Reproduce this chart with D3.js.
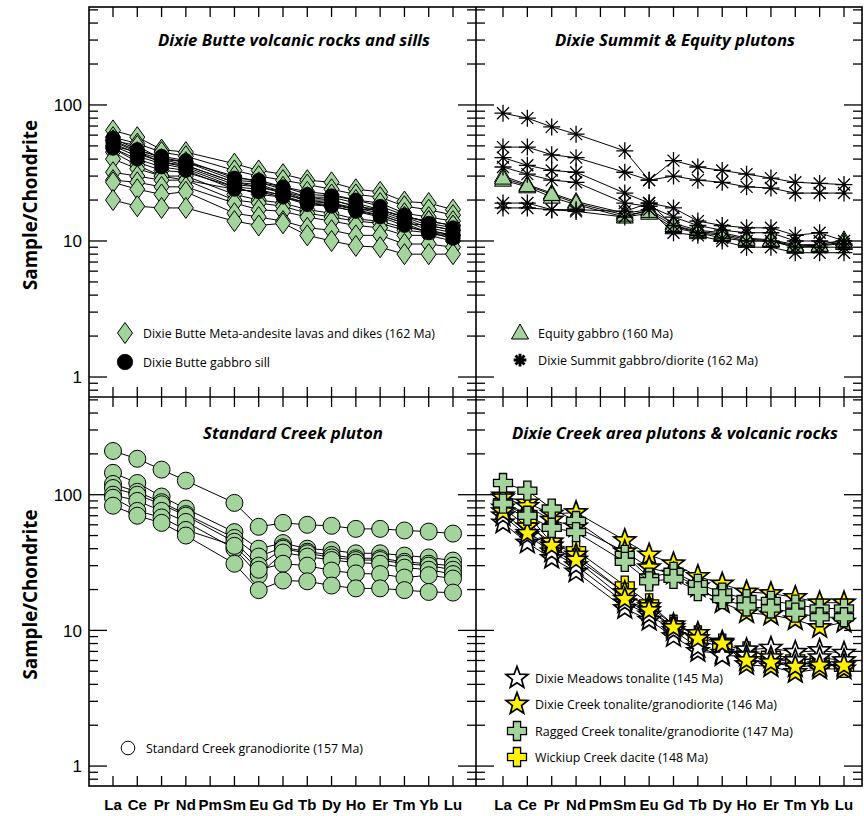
<!DOCTYPE html>
<html><head><meta charset="utf-8">
<script src="https://cdn.jsdelivr.net/npm/d3@7"></script>
<style>body{margin:0;background:#fff}svg{display:block}</style>
</head><body>
<svg id="chart" width="864" height="816"></svg>
<script>
// ---------------- DATA ----------------
const elements = ["La","Ce","Pr","Nd","Pm","Sm","Eu","Gd","Tb","Dy","Ho","Er","Tm","Yb","Lu"];
const plotted  = ["La","Ce","Pr","Nd","Sm","Eu","Gd","Tb","Dy","Ho","Er","Tm","Yb","Lu"];
const yTickLabels = [1, 10, 100];
const yAxisTitle = "Sample/Chondrite";

const panelTitles = ["Dixie Butte volcanic rocks and sills","Dixie Summit & Equity plutons",
                     "Standard Creek pluton","Dixie Creek area plutons & volcanic rocks"];

// Dixie Butte meta-andesite lavas and dikes (diamonds)
const dixieButteAndesite = [
 [65, 58, 47, 45, 37, 33, 31, 28, 27, 24, 23, 19.5, 19, 17],
 [58, 52, 45, 42, 33, 30, 28, 26, 24, 22, 21, 18, 17, 15.5],
 [55, 50, 40, 38, 30, 27, 25, 23, 22, 20, 19, 16, 15, 14],
 [50, 45, 38, 36, 27, 25, 23, 21, 20, 18, 17, 15, 14, 13],
 [48, 38, 33, 32, 25, 22, 21, 19, 18, 16.5, 15.5, 13.5, 13, 12],
 [45, 36, 30, 30, 22, 20, 19, 17, 16, 14.5, 14, 12.5, 12, 11],
 [40, 34, 30, 28, 24, 23, 22, 20, 19, 17, 17, 15, 14, 13],
 [32, 30, 28, 28, 20, 19, 18, 16, 15, 14, 13.5, 12, 11.5, 11],
 [28, 27, 25, 25, 19, 17, 16.5, 15, 14, 13, 12.5, 11, 11, 10],
 [27, 24, 22, 23, 16, 15, 14, 12.5, 12, 11, 11, 9.5, 9.5, 9],
 [20, 18, 17.5, 17.5, 14, 13, 13.5, 11, 10, 9.2, 9, 8, 8, 8]
];
// Dixie Butte gabbro sill (black circles)
const dixieButteGabbro = [
 [57, 47, 41, 38, 28, 27, 24, 21, 21, 19, 17, 15, 13, 12],
 [54, 45, 40, 36, 27, 26, 23, 20, 20, 18, 16.5, 14.5, 12.5, 11.5],
 [52, 44, 38, 35, 26, 25, 22.5, 19.5, 19, 17.5, 16, 14, 12, 11],
 [50, 42, 37, 34, 25, 24, 21.5, 19, 18.5, 17, 15.5, 13.5, 11.5, 10.5],
 [55, 46, 42, 39, 29, 28, 25, 22, 21.5, 20, 18, 15.5, 13.5, 12.5],
 [48, 40, 35, 33, 24, 23, 21, 18.5, 18, 16.5, 15, 13, 11.5, 10.5]
];
// Equity gabbro (triangles)
const equityGabbro = [
 [30, 26, 22.5, 19.5, 16, 17, 13.5, 12, 11.5, 10.5, 10.2, 9.4, 9.4, 10.2],
 [28, 25, 21, 18.5, 15, 16, 12.5, 11.5, 11, 10, 10, 9, 9.2, 9.6],
 [29, 25.5, 22, 19, 15.5, 16.5, 13, 11.8, 11.2, 10.3, 10.1, 9.2, 9.3, 9.8]
];
// Dixie Summit gabbro/diorite (asterisks)
const dixieSummit = [
 [87, 80, 69, 61, 46, 28, 39, 35, 33, 31, 29, 27, 26.5, 26],
 [49, 49, 43, 41, 32, 28, 30, 28, 27, 25, 24.5, 22.5, 22.5, 22.5],
 [41, 36, 33, 32, 22.5, 19, 17.5, 14, 13, 12.5, 12.5, 11, 11.5, 10],
 [35, 31, 28, 27, 19, 18, 15, 13, 12, 11.5, 11.5, 10, 10, 9.5],
 [19, 19, 17, 17, 16.5, 19, 13, 11.5, 10.5, 10, 10, 9, 9, 9],
 [17.5, 17.5, 17, 16.5, 15, 17, 11.5, 11, 10, 9, 9, 8.2, 8.2, 8.2]
];
// Standard Creek granodiorite (circles)
const standardCreek = [
 [210, 184, 153, 127, 87, 58, 62, 60, 59, 56, 56, 54.5, 53.5, 51.7],
 [145, 122, 97, 79, 53, 40, 44, 40, 39, 37, 37, 35.6, 34.5, 32.7],
 [120, 105, 88, 72, 48, 35, 41, 38, 36, 34, 34, 32, 31, 30],
 [112, 100, 85, 70, 45, 30, 40, 37, 34.5, 33, 33, 31, 30, 28],
 [100, 90, 76, 63, 40, 25.5, 37.5, 35, 33, 31.6, 31, 29, 28, 26],
 [95, 76, 68, 55, 42, 28, 31, 30, 27.6, 26.3, 26, 24.5, 25.5, 24.1],
 [83, 70, 62, 50, 31, 19.8, 23.3, 23, 21.4, 20.4, 20.4, 19.8, 19.2, 19]
];
// Dixie Meadows tonalite (white stars)
const dixieMeadows = [
 [62, 44, 34, 27, 14.5, 11.9, 9, 7, 6.8, 7.2, 7.4, 6.9, 7.1, 6.8],
 [70, 50, 38, 30, 16, 13, 10, 7.5, 6.5, 6.5, 6.3, 6, 6.3, 6]
];
// Dixie Creek tonalite/granodiorite (yellow stars)
const dixieCreek = [
 [98, 87, 72, 74, 46, 36, 31, 25, 22, 19.2, 18.7, 17.5, 16, 16],
 [95, 82, 65, 58, 38, 29, 26, 21, 16, 13.5, 13, 12, 10.5, 11.5],
 [80, 58, 45, 36, 19, 15, 11, 9.5, 8.2, 5.6, 5.4, 4.9, 5.2, 5.2],
 [75, 52, 42, 33, 17, 14, 10.5, 8.7, 8, 6, 5.8, 5.4, 5.5, 5.5]
];
// Ragged Creek tonalite/granodiorite (green crosses)
const raggedCreek = [
 [122, 107, 79, 64, 36, 24.5, 27, 22, 19, 17, 16.5, 15.5, 14.5, 14.5],
 [86, 70, 57, 53, 32, 23, 24, 19.5, 17, 15, 14.5, 13.5, 12.5, 12.5]
];
// Wickiup Creek dacite (yellow crosses)
const wickiupCreek = [
 [88, 72, 44, 39, 21.4, 15.8, 11, 9.2, 8, 7, 6.6, 6.2, 6, 5.3],
 [85, 66, 40, 34, 19, 14.5, 10.5, 8.5, 7.5, 6.6, 6.2, 5.8, 5.6, 5.6]
];

const legendLabels = {
  andesite: "Dixie Butte Meta-andesite lavas and dikes (162 Ma)",
  gabbroSill: "Dixie Butte gabbro sill",
  equity: "Equity gabbro (160 Ma)",
  summit: "Dixie Summit gabbro/diorite (162 Ma)",
  standard: "Standard Creek granodiorite (157 Ma)",
  meadows: "Dixie Meadows tonalite (145 Ma)",
  creek: "Dixie Creek tonalite/granodiorite (146 Ma)",
  ragged: "Ragged Creek tonalite/granodiorite (147 Ma)",
  wickiup: "Wickiup Creek dacite (148 Ma)"
};

// ---------------- STYLE / LAYOUT ----------------
const GREEN = "#a3d49c", YELLOW = "#fff200";
const svg = d3.select("#chart");

function starPath(R, r) {
  const pts = [];
  for (let i = 0; i < 10; i++) {
    const a = -Math.PI / 2 + i * Math.PI / 5, rad = i % 2 ? r : R;
    pts.push([rad * Math.cos(a), rad * Math.sin(a)]);
  }
  return "M" + pts.map(p => p[0].toFixed(2) + "," + p[1].toFixed(2)).join("L") + "Z";
}
function crossPath(a, b) {
  return `M${-a},${-b}H${a}V${-a}H${b}V${a}H${a}V${b}H${-a}V${a}H${-b}V${-a}H${-a}Z`;
}
const symbols = {
  diamond: {d: "M0,-10.5L7.5,0L0,10.5L-7.5,0Z", sw: 1},
  dot: {circle: 7, sw: 0.8},
  triangle: {d: "M0,-9L8.5,6L-8.5,6Z", sw: 1},
  asterisk: {d: "M-8.5,0H8.5M0,-8.5V8.5M-6,-6L6,6M-6,6L6,-6", sw: 1.3, line: true},
  circle: {circle: 8.5, sw: 1},
  star: {d: starPath(11.5, 4.8), sw: 1.7},
  cross: {d: crossPath(3.6, 9.5), sw: 1.3}
};

function drawSymbol(g, type, fill, x, y, scale = 1, swMul = 1) {
  const s = symbols[type];
  if (s.circle) {
    g.append("circle").attr("cx", x).attr("cy", y).attr("r", s.circle * scale)
      .attr("fill", fill).attr("stroke", "#000").attr("stroke-width", s.sw * swMul);
  } else {
    g.append("path").attr("d", s.d)
      .attr("transform", `translate(${x},${y}) scale(${scale})`)
      .attr("fill", s.line ? "none" : fill).attr("stroke", "#000")
      .attr("stroke-width", s.sw * swMul / scale).attr("stroke-linejoin", "miter");
  }
}

const panels = [
  {x0: 89, x1: 476, y0: 7, y1: 397, xr: [113, 453], title: panelTitles[0], tx: 294, ty: 46, tw: 272, xlabels: false, ylabels: true,
   groups: [{data: dixieButteAndesite, sym: "diamond", fill: GREEN}, {data: dixieButteGabbro, sym: "dot", fill: "#000"}],
   legend: [{sym: "diamond", fill: GREEN, x: 125, y: 333, label: legendLabels.andesite, w: 292},
            {sym: "dot", fill: "#000", x: 125, y: 362, label: legendLabels.gabbroSill, w: 127, scale: 1.1}]},
  {x0: 476, x1: 862, y0: 7, y1: 397, xr: [503, 844], title: panelTitles[1], tx: 675, ty: 46, tw: 240, xlabels: false, ylabels: false,
   groups: [{data: equityGabbro, sym: "triangle", fill: GREEN}, {data: dixieSummit, sym: "asterisk", fill: "none"}],
   legend: [{sym: "triangle", fill: GREEN, x: 520, y: 333, label: legendLabels.equity, w: 135},
            {sym: "asterisk", fill: "none", x: 520, y: 360, label: legendLabels.summit, w: 220, scale: 0.75, swMul: 2.2}]},
  {x0: 89, x1: 476, y0: 397, y1: 786, xr: [113, 453], title: panelTitles[2], tx: 293, ty: 439, tw: 180, xlabels: true, ylabels: true,
   groups: [{data: standardCreek, sym: "circle", fill: GREEN}],
   legend: [{sym: "circle", fill: "#fff", x: 128, y: 748, label: legendLabels.standard, w: 217, scale: 0.8}]},
  {x0: 476, x1: 862, y0: 397, y1: 786, xr: [503, 844], title: panelTitles[3], tx: 675, ty: 439, tw: 326, xlabels: true, ylabels: false,
   groups: [{data: wickiupCreek, sym: "cross", fill: YELLOW}, {data: dixieMeadows, sym: "star", fill: "#fff"},
            {data: dixieCreek, sym: "star", fill: YELLOW}, {data: raggedCreek, sym: "cross", fill: GREEN}],
   legend: [{sym: "star", fill: "#fff", x: 517, y: 678, label: legendLabels.meadows, w: 188},
            {sym: "star", fill: YELLOW, x: 517, y: 704, label: legendLabels.creek, w: 242},
            {sym: "cross", fill: GREEN, x: 517, y: 731, label: legendLabels.ragged, w: 258},
            {sym: "cross", fill: YELLOW, x: 517, y: 757, label: legendLabels.wickiup, w: 173}]}
];

const yDomain = [0.713, 525];
const minorTicks = [];
for (let e = -1; e <= 2; e++) for (let m = 1; m <= 9; m++) {
  const v = m * Math.pow(10, e);
  if (v >= yDomain[0] && v <= yDomain[1]) minorTicks.push(v);
}

panels.forEach(p => {
  const g = svg.append("g");
  const x = d3.scalePoint().domain(elements).range(p.xr);
  const y = d3.scaleLog().domain(yDomain).range([p.y1, p.y0]);

  // ticks
  const tk = g.append("g").attr("stroke", "#000").attr("stroke-width", 1.3);
  minorTicks.forEach(v => {
    const major = yTickLabels.includes(v);
    const L = major ? 18 : 9;
    const yy = y(v);
    tk.append("line").attr("x1", p.x0).attr("x2", p.x0 + L).attr("y1", yy).attr("y2", yy);
    tk.append("line").attr("x1", p.x1).attr("x2", p.x1 - L).attr("y1", yy).attr("y2", yy);
  });
  elements.forEach(el => {
    const xx = x(el);
    tk.append("line").attr("x1", xx).attr("x2", xx).attr("y1", p.y0).attr("y2", p.y0 + 10);
    tk.append("line").attr("x1", xx).attr("x2", xx).attr("y1", p.y1).attr("y2", p.y1 - 10);
  });

  // y labels
  if (p.ylabels) {
    yTickLabels.forEach(v => {
      g.append("text").attr("x", 82).attr("y", y(v)).attr("dy", "0.36em")
        .attr("text-anchor", "end").attr("font-family", "Liberation Sans, Arial, sans-serif")
        .attr("font-size", 17).text(d3.format("d")(v));
    });
    const cy = (p.y0 + p.y1) / 2 + 3;
    g.append("text").attr("transform", `translate(37,${cy}) rotate(-90)`)
      .attr("text-anchor", "middle").attr("font-family", "Open Sans, sans-serif")
      .attr("font-weight", 700).attr("font-size", 19)
      .attr("textLength", 170).attr("lengthAdjust", "spacingAndGlyphs").text(yAxisTitle);
  }
  // x labels
  if (p.xlabels) {
    elements.forEach(el => {
      g.append("text").attr("x", x(el)).attr("y", 810).attr("text-anchor", "middle")
        .attr("font-family", "Liberation Sans, Arial, sans-serif").attr("font-weight", 700)
        .attr("font-size", 15).text(el);
    });
  }
  // title
  g.append("text").attr("x", p.tx).attr("y", p.ty).attr("text-anchor", "middle")
    .attr("font-family", "Open Sans, sans-serif").attr("font-weight", 700).attr("font-style", "italic")
    .attr("font-size", 16.5).attr("textLength", p.tw).attr("lengthAdjust", "spacingAndGlyphs").text(p.title);

  // series
  const line = d3.line().x((d, i) => x(plotted[i])).y(d => y(d));
  p.groups.forEach(gr => {
    gr.data.forEach(series => {
      g.append("path").attr("d", line(series)).attr("fill", "none")
        .attr("stroke", "#000").attr("stroke-width", 1);
      series.forEach((v, i) => drawSymbol(g, gr.sym, gr.fill, x(plotted[i]), y(v)));
    });
  });

  // legend
  p.legend.forEach(l => {
    drawSymbol(g, l.sym, l.fill, l.x, l.y, l.scale || 1, l.swMul || 1);
    g.append("text").attr("x", l.x + 18).attr("y", l.y).attr("dy", "0.36em")
      .attr("font-family", "Open Sans, sans-serif").attr("font-size", 12.5)
      .attr("textLength", l.w).attr("lengthAdjust", "spacingAndGlyphs").text(l.label);
  });
});

// frame
const fr = svg.append("g").attr("fill", "none").attr("stroke", "#000").attr("stroke-width", 1.6);
fr.append("rect").attr("x", 89).attr("y", 7).attr("width", 773).attr("height", 779);
fr.append("line").attr("x1", 476).attr("x2", 476).attr("y1", 7).attr("y2", 786);
fr.append("line").attr("x1", 89).attr("x2", 862).attr("y1", 397).attr("y2", 397);
</script>
</body></html>
